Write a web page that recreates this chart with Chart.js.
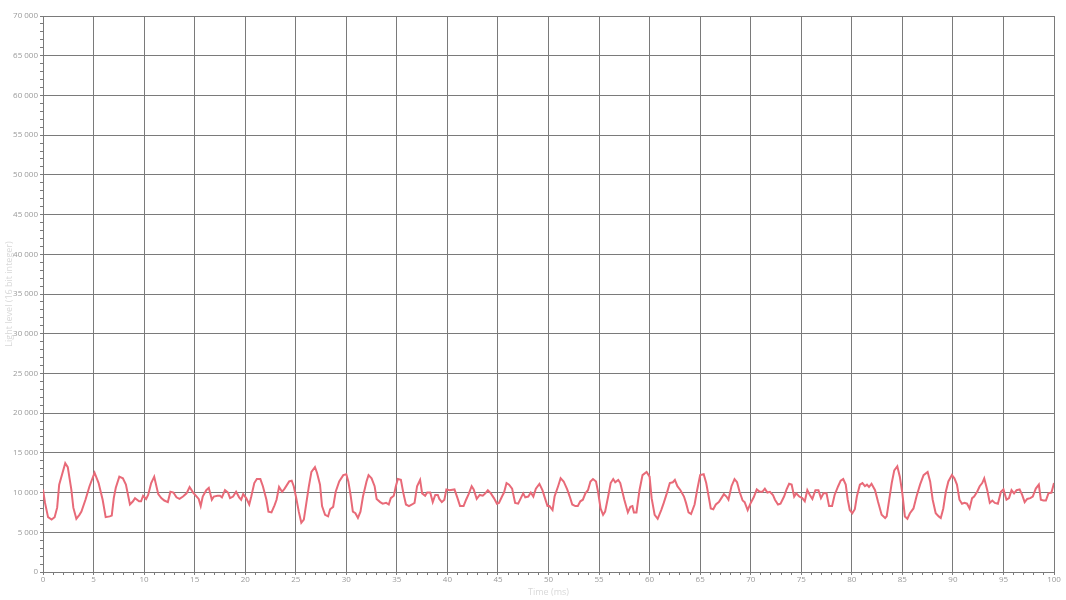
<!DOCTYPE html>
<html>
<head>
<meta charset="utf-8">
<script src="https://cdn.jsdelivr.net/npm/chart.js@4/dist/chart.umd.min.js"></script>
<style>
  html, body { margin: 0; padding: 0; background: #fff; }
  #wrap { width: 1066px; height: 600px; }
</style>
</head>
<body>
<div id="wrap"><canvas id="chart"></canvas></div>
<script>
// sample times (ms) and light level readings
const times = [
  0, 0.2, 0.5, 0.85, 1.15, 1.4, 1.6, 2.2, 2.45, 2.8, 3.0, 3.3, 3.6, 3.8, 4.2, 4.6, 5.1, 5.5, 5.9, 6.2,
  6.6, 6.8, 7.0, 7.2, 7.55, 7.9, 8.2, 8.6, 8.9, 9.1, 9.5, 9.7, 9.9, 10.2, 10.4, 10.7, 11.0, 11.4, 11.7, 12.0,
  12.35, 12.6, 12.9, 13.2, 13.5, 13.85, 14.2, 14.5, 14.85, 15.2, 15.4, 15.6, 15.8, 16.15, 16.4, 16.7, 16.9, 17.25, 17.5, 17.7,
  18.0, 18.3, 18.5, 18.8, 19.1, 19.4, 19.6, 19.8, 20.1, 20.4, 20.6, 20.9, 21.15, 21.5, 21.75, 22.1, 22.3, 22.6, 22.9, 23.1,
  23.35, 23.65, 23.9, 24.35, 24.6, 24.8, 25.05, 25.3, 25.55, 25.8, 26.05, 26.3, 26.55, 26.9, 27.1, 27.4, 27.6, 27.9, 28.2, 28.4,
  28.7, 28.95, 29.3, 29.7, 30.0, 30.2, 30.4, 30.65, 30.9, 31.15, 31.4, 31.65, 32.0, 32.2, 32.5, 32.8, 33.0, 33.35, 33.6, 33.95,
  34.2, 34.4, 34.7, 34.9, 35.1, 35.4, 35.65, 35.9, 36.2, 36.5, 36.75, 37.0, 37.3, 37.5, 37.8, 38.0, 38.3, 38.55, 38.8, 39.05,
  39.2, 39.45, 39.7, 39.9, 40.2, 40.7, 41.0, 41.25, 41.6, 41.85, 42.1, 42.4, 42.6, 42.9, 43.2, 43.5, 43.75, 44.0, 44.3, 44.6,
  44.9, 45.1, 45.4, 45.6, 45.85, 46.1, 46.4, 46.7, 47.0, 47.3, 47.5, 47.7, 48.0, 48.25, 48.5, 48.75, 49.1, 49.4, 49.65, 49.9,
  50.1, 50.4, 50.6, 50.95, 51.2, 51.5, 51.85, 52.1, 52.35, 52.65, 52.9, 53.15, 53.4, 53.65, 53.9, 54.15, 54.4, 54.7, 54.9, 55.15,
  55.4, 55.6, 55.9, 56.15, 56.4, 56.6, 56.9, 57.1, 57.5, 57.85, 58.1, 58.3, 58.45, 58.7, 59.0, 59.3, 59.7, 60.0, 60.2, 60.5,
  60.8, 61.15, 61.4, 61.7, 62.0, 62.3, 62.5, 62.75, 63.05, 63.4, 63.6, 63.85, 64.1, 64.45, 64.7, 65.0, 65.35, 65.6, 65.9, 66.05,
  66.3, 66.55, 66.85, 67.1, 67.35, 67.6, 67.8, 68.1, 68.4, 68.65, 68.9, 69.2, 69.4, 69.7, 70.0, 70.3, 70.6, 70.9, 71.15, 71.4,
  71.65, 71.9, 72.2, 72.4, 72.7, 72.95, 73.3, 73.55, 73.8, 74.05, 74.3, 74.5, 74.8, 75.1, 75.35, 75.6, 75.85, 76.1, 76.4, 76.7,
  76.95, 77.2, 77.5, 77.75, 78.05, 78.3, 78.65, 78.9, 79.15, 79.4, 79.6, 79.8, 80.05, 80.3, 80.5, 80.8, 81.05, 81.3, 81.5, 81.7,
  81.95, 82.3, 82.6, 82.95, 83.3, 83.45, 83.7, 83.95, 84.2, 84.5, 84.75, 85.0, 85.25, 85.5, 85.75, 86.1, 86.4, 86.75, 87.1, 87.5,
  87.75, 88.0, 88.3, 88.6, 88.8, 89.05, 89.3, 89.55, 89.9, 90.15, 90.4, 90.65, 90.9, 91.15, 91.4, 91.65, 91.9, 92.1, 92.4, 92.65,
  92.9, 93.1, 93.4, 93.65, 93.9, 94.15, 94.45, 94.75, 95.0, 95.3, 95.55, 95.8, 96.05, 96.3, 96.6, 96.85, 97.1, 97.35, 97.65, 97.9,
  98.2, 98.5, 98.7, 98.95, 99.2, 99.45, 99.75, 100
];
const levels = [
  10400, 8700, 6900, 6600, 6900, 8100, 11000, 13700, 13200, 10400, 8100, 6700, 7200, 7600, 9100, 10800, 12500, 11200, 9100, 6900,
  7000, 7100, 9300, 10600, 12000, 11800, 11000, 8500, 8900, 9300, 8900, 8900, 9600, 9200, 9700, 11200, 12000, 9800, 9300, 9000,
  8800, 10100, 10000, 9400, 9200, 9500, 9900, 10700, 10000, 9500, 9200, 8300, 9500, 10300, 10600, 9100, 9500, 9600, 9600, 9400,
  10300, 10000, 9300, 9500, 10100, 9400, 9100, 9800, 9300, 8500, 9500, 11200, 11700, 11700, 10800, 9100, 7600, 7500, 8400, 9100,
  10700, 10100, 10500, 11400, 11500, 10800, 9300, 7600, 6200, 6600, 8700, 10800, 12600, 13200, 12500, 11000, 8300, 7200, 7000, 7900,
  8200, 10100, 11400, 12200, 12300, 11400, 9900, 7600, 7400, 6800, 7600, 9500, 11400, 12200, 11800, 10800, 9200, 8800, 8600, 8700,
  8500, 9300, 9600, 10800, 11700, 11600, 9900, 8500, 8300, 8500, 8700, 10800, 11600, 9900, 9600, 10000, 10000, 8800, 9700, 9700,
  9200, 8800, 9100, 10400, 10300, 10400, 9300, 8300, 8300, 9100, 9800, 10800, 10400, 9200, 9700, 9600, 9900, 10300, 9900, 9300,
  8600, 8700, 9500, 10000, 11200, 11000, 10500, 8700, 8600, 9400, 9900, 9400, 9500, 10000, 9500, 10500, 11100, 10300, 9300, 8300,
  8300, 7800, 9500, 10800, 11800, 11400, 10400, 9500, 8500, 8300, 8300, 8900, 9100, 9900, 10300, 11400, 11700, 11400, 10100, 8000,
  7200, 7600, 9500, 11200, 11700, 11300, 11600, 11200, 9100, 7500, 8200, 8300, 7500, 7500, 10300, 12200, 12600, 12000, 9300, 7200,
  6700, 7800, 8700, 9900, 11200, 11300, 11600, 10800, 10300, 9500, 8700, 7500, 7300, 8500, 10300, 12200, 12300, 11200, 9100, 8000,
  7900, 8500, 8800, 9300, 9800, 9500, 9100, 10800, 11700, 11300, 10100, 9000, 8800, 7800, 8700, 9400, 10400, 10100, 10100, 10500,
  10000, 10100, 9700, 9100, 8500, 8600, 9500, 10400, 11100, 11000, 9500, 9900, 9500, 9300, 8900, 10300, 9700, 9200, 10300, 10300,
  9300, 9900, 9900, 8300, 8300, 9700, 10800, 11500, 11700, 11000, 9100, 7800, 7400, 7900, 9500, 11000, 11200, 10800, 11000, 10700,
  11100, 10300, 8800, 7200, 6800, 7000, 9100, 11200, 12800, 13300, 12000, 9900, 7000, 6700, 7400, 8000, 9500, 11000, 12200, 12600,
  11400, 9100, 7400, 7000, 6800, 8000, 10100, 11400, 12200, 11800, 11000, 9100, 8600, 8700, 8600, 8000, 9300, 9500, 10100, 10800,
  11200, 11800, 10300, 8700, 9000, 8700, 8600, 10100, 10400, 9100, 9300, 10300, 9900, 10300, 10400, 9700, 8800, 9200, 9300, 9500,
  10500, 11000, 9100, 9000, 9000, 9900, 10000, 11200
];
const yMax = 70000;
const yMajor = 5000;
const xMax = 100;
const xMajor = 5;

const points = times.map((t, i) => ({ x: t, y: levels[i] }));

const gridGray = '#7a7a7a';
const tickGray = '#9a9a9a';
const titleGray = '#d8d8d8';
const fmt = v => String(v).replace(/\B(?=(\d{3})+(?!\d))/g, ' ');

const config = {
  type: 'line',
  data: {
    datasets: [{
      data: points,
      borderColor: 'rgb(232, 106, 120)',
      borderWidth: 2,
      pointRadius: 0,
      tension: 0,
      fill: false
    }]
  },
  options: {
    animation: false,
    responsive: true,
    maintainAspectRatio: false,
    layout: { padding: { top: 16, right: 12, left: 0, bottom: 0 } },
    plugins: {
      legend: { display: false },
      tooltip: { enabled: false }
    },
    scales: {
      x: {
        type: 'linear',
        min: 0,
        max: xMax,
        afterFit: s => { s.height = 28; },
        border: { color: gridGray },
        grid: {
          color: c => (c.tick.value % xMajor === 0 ? gridGray : 'transparent'),
          tickColor: gridGray,
          tickLength: 3
        },
        ticks: {
          stepSize: 1,
          autoSkip: false,
          maxRotation: 0,
          padding: 0,
          color: tickGray,
          font: { family: 'Open Sans', size: 8 },
          callback: v => (v % xMajor === 0 ? String(v) : '')
        },
        title: {
          display: true,
          text: 'Time (ms)',
          color: titleGray,
          font: { family: 'Open Sans', size: 9 },
          padding: 2
        }
      },
      y: {
        min: 0,
        max: yMax,
        afterFit: s => { s.width = 43; },
        border: { color: gridGray },
        grid: {
          color: c => (c.tick.value % yMajor === 0 ? gridGray : 'transparent'),
          tickColor: gridGray,
          tickLength: 3
        },
        ticks: {
          stepSize: 1000,
          autoSkip: false,
          padding: 2,
          color: tickGray,
          font: { family: 'Open Sans', size: 8 },
          callback: v => (v % yMajor === 0 ? fmt(v) : '')
        },
        title: {
          display: true,
          text: 'Light level (16 bit integer)',
          color: titleGray,
          font: { family: 'Open Sans', size: 9 },
          padding: 4
        }
      }
    }
  }
};

new Chart(document.getElementById('chart'), config);
</script>
</body>
</html>
